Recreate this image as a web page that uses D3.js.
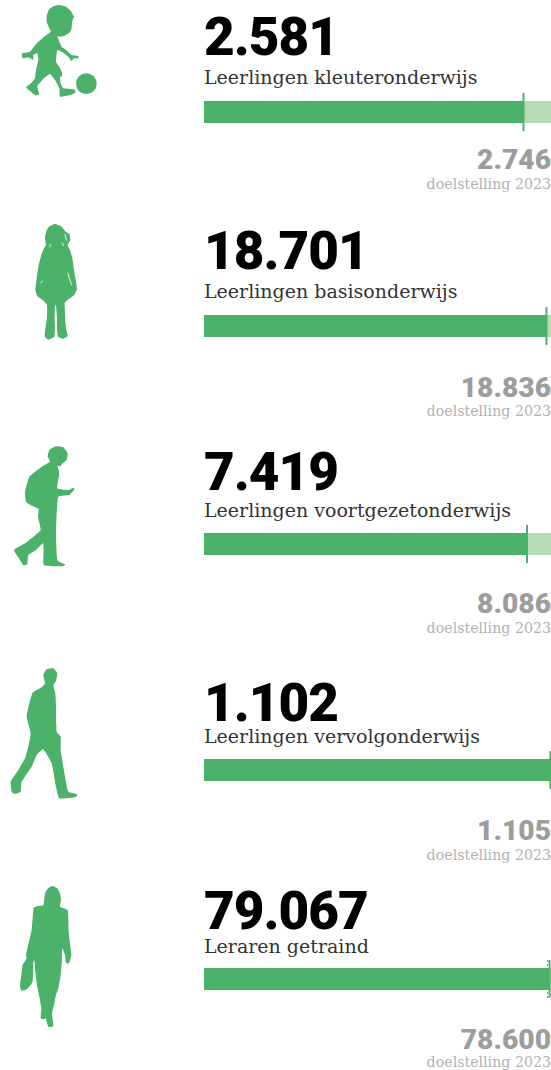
<!DOCTYPE html>
<html>
<head>
<meta charset="utf-8">
<script src="https://cdn.jsdelivr.net/npm/d3@7"></script>
<style>
    html, body { margin: 0; padding: 0; background: #fff; }
    svg { display: block; }
</style>
</head>
<body>
<script>
// values
const labels = ["Leerlingen kleuteronderwijs", "Leerlingen basisonderwijs", "Leerlingen voortgezetonderwijs", "Leerlingen vervolgonderwijs", "Leraren getraind"];
const values = [2581, 18701, 7419, 1102, 79067];
const targets = [2746, 18836, 8086, 1105, 78600];
// what the full bar length stands for in each row (bars are not on one shared scale)
const barMax = [2803, 18947, 7970, 1104, 79400];
const targetCaption = "doelstelling 2023";

// layout per row, these rows are not evenly spaced
const barTop = [101, 315, 533, 759, 968];
const valueBase = [55, 269, 490, 721, 929];
const labelBase = [84, 298, 517, 743, 953];
const targetBase = [169, 397, 613, 840, 1049];
const captionBase = [189, 416, 633, 860, 1067];

// silhouettes, traced in 3x pixels around an origin
const iconOutlines = [
    { dx: 0, dy: 0, pts: [[140,48],[146,30],[160,19],[178,15],[198,20],[212,32],[222,50],[217,62],[216,72],[214,88],[208,98],[192,108],[178,110],[172,108],[178,125],[186,142],[198,150],[215,165],[235,168],[235,175],[222,175],[214,183],[205,170],[190,158],[172,150],[168,185],[178,200],[186,218],[186,228],[180,232],[182,250],[190,265],[222,268],[226,278],[210,285],[180,290],[178,265],[165,240],[150,222],[135,232],[112,258],[118,283],[105,285],[78,262],[95,248],[105,235],[108,210],[115,180],[112,160],[100,165],[100,180],[85,172],[68,175],[66,160],[90,155],[110,130],[135,108],[152,95],[146,80],[140,65]] },
    { dx: 0, dy: 210, pts: [[135,85],[138,65],[147,50],[165,42],[185,50],[197,65],[208,72],[211,90],[203,105],[212,125],[218,150],[222,180],[228,215],[231,238],[222,256],[205,268],[194,280],[195,305],[196,335],[199,360],[203,378],[190,386],[174,380],[171,355],[171,325],[168,285],[165,290],[164,320],[165,355],[163,380],[145,389],[134,378],[137,350],[141,320],[141,285],[130,272],[112,258],[106,240],[110,205],[116,165],[124,135],[132,115],[138,105]] },
    { dx: 0, dy: 435, pts: [[143,65],[148,45],[168,34],[190,37],[203,55],[200,75],[188,85],[180,95],[172,92],[178,115],[172,160],[205,165],[218,158],[224,162],[208,180],[175,185],[170,235],[168,300],[172,375],[195,388],[188,394],[135,392],[130,385],[130,325],[108,345],[85,360],[82,388],[70,390],[56,368],[42,345],[75,325],[100,305],[122,285],[114,245],[116,222],[95,212],[78,200],[75,170],[88,125],[125,95],[150,80]] },
    { dx: 0, dy: 660, pts: [[130,45],[140,28],[160,25],[172,40],[168,62],[160,78],[166,100],[168,135],[168,170],[170,215],[182,230],[182,270],[190,320],[198,365],[205,395],[232,402],[225,412],[178,415],[168,380],[155,310],[130,268],[110,285],[95,320],[65,365],[62,395],[45,402],[35,395],[32,365],[55,330],[75,295],[85,260],[92,220],[80,170],[88,130],[98,98],[125,82],[135,70]] },
    { dx: 0, dy: 880, pts: [[132,62],[136,38],[145,24],[158,18],[172,25],[180,40],[183,60],[180,80],[203,90],[205,120],[206,155],[210,190],[214,225],[207,250],[198,248],[195,225],[187,205],[186,240],[182,285],[176,322],[168,345],[162,375],[156,400],[160,438],[145,440],[136,412],[135,418],[122,415],[124,385],[118,350],[112,320],[106,275],[103,240],[100,250],[98,305],[80,328],[65,332],[60,320],[64,285],[68,255],[80,235],[78,225],[88,180],[95,150],[98,115],[102,82],[130,76]] }
];
// white specks in the girl's hair and coat
const iconSlits = [
    { dx: 0, dy: 210, pts: [[[195,72],[199,92]], [[186,98],[191,108]], [[151,102],[150,112]], [[127,212],[122,220]], [[203,188],[215,226]]] }
];

const width = 551;
const height = 1070;
const barLeft = 204;
const barHeight = 22;
const tickOver = 8;

const green = "#4cb26a";
const lightGreen = "#b7dbb6";
const grey = "#9d9d9c";
const lightGrey = "#b2b2b2";
const numberFont = "Roboto, sans-serif";
const slabFont = "'DejaVu Serif', serif";

// Dutch thousands separator
const formatValue = d3.formatLocale({ decimal: ",", thousands: ".", grouping: [3], currency: ["€", ""] }).format(",d");

const svg = d3.select("body").append("svg")
    .attr("width", width)
    .attr("height", height);

// add the silhouettes
const outline = d3.line().curve(d3.curveCardinalClosed.tension(0.6));
svg.append("g")
    .selectAll("path")
    .data(iconOutlines)
    .join("path")
    .attr("transform", d => `translate(${d.dx},${d.dy}) scale(${1 / 3})`)
    .attr("d", d => outline(d.pts))
    .attr("fill", green);

svg.append("g")
    .selectAll("path")
    .data(iconSlits)
    .join("path")
    .attr("transform", d => `translate(${d.dx},${d.dy}) scale(${1 / 3})`)
    .attr("d", d => d.pts.map(p => d3.line()(p)).join(""))
    .attr("fill", "none")
    .attr("stroke", "#fff")
    .attr("stroke-width", 2.5);

// the ball next to the toddler
svg.append("circle")
    .attr("cx", 259 / 3)
    .attr("cy", 251 / 3)
    .attr("r", 31 / 3)
    .attr("fill", green);

labels.forEach((label, i) => {
    const x = d3.scaleLinear()
        .domain([0, barMax[i]])
        .range([barLeft, width]);

    const row = svg.append("g");

    row.append("text")
        .attr("x", barLeft)
        .attr("y", valueBase[i])
        .attr("font-family", numberFont)
        .attr("font-weight", 900)
        .attr("font-size", 53)
        .attr("letter-spacing", -1)
        .attr("fill", "#000")
        .text(formatValue(values[i]));

    row.append("text")
        .attr("x", barLeft)
        .attr("y", labelBase[i])
        .attr("font-family", slabFont)
        .attr("font-size", 19)
        .attr("fill", "#333")
        .text(label);

    // light part first, the achieved part goes on top
    row.append("rect")
        .attr("x", barLeft)
        .attr("y", barTop[i])
        .attr("width", width - barLeft)
        .attr("height", barHeight)
        .attr("fill", lightGreen);

    row.append("rect")
        .attr("x", barLeft)
        .attr("y", barTop[i])
        .attr("width", Math.min(x(values[i]), width) - barLeft)
        .attr("height", barHeight)
        .attr("fill", green);

    row.append("line")
        .attr("x1", x(values[i]))
        .attr("x2", x(values[i]))
        .attr("y1", barTop[i] - tickOver)
        .attr("y2", barTop[i] + barHeight + tickOver)
        .attr("stroke", green)
        .attr("stroke-width", 2);

    // only drawn where the target was passed
    if (values[i] > targets[i]) {
        row.append("line")
            .attr("x1", x(targets[i]))
            .attr("x2", x(targets[i]))
            .attr("y1", barTop[i] - tickOver)
            .attr("y2", barTop[i] + barHeight + tickOver)
            .attr("stroke", green)
            .attr("stroke-width", 1)
            .attr("stroke-dasharray", "2,2");
    }

    row.append("text")
        .attr("x", width)
        .attr("y", targetBase[i])
        .attr("text-anchor", "end")
        .attr("font-family", numberFont)
        .attr("font-weight", 900)
        .attr("font-size", 28.2)
        .attr("fill", grey)
        .text(formatValue(targets[i]));

    row.append("text")
        .attr("x", width)
        .attr("y", captionBase[i])
        .attr("text-anchor", "end")
        .attr("font-family", slabFont)
        .attr("font-size", 14.2)
        .attr("fill", lightGrey)
        .text(targetCaption);
});
</script>
</body>
</html>
